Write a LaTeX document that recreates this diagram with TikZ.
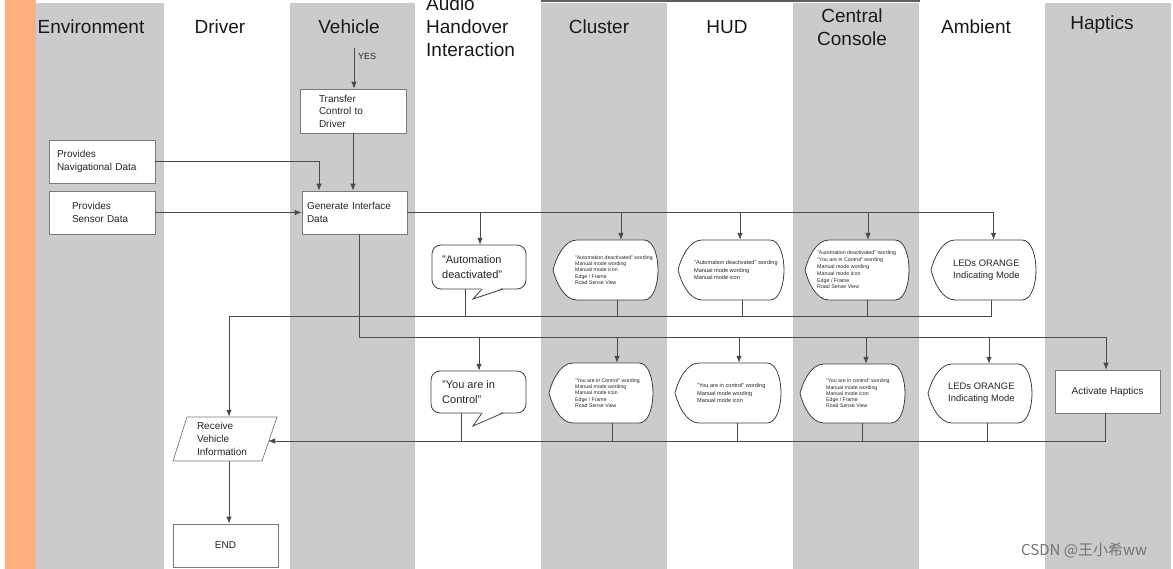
\documentclass[tikz,border=0pt]{standalone}
\usepackage{fontspec}
\setmainfont{Liberation Sans}
\newfontfamily\cjk{Noto Sans CJK SC}
\usetikzlibrary{arrows.meta,fit}
\definecolor{laneg}{HTML}{CBCBCB}
\definecolor{orng}{HTML}{FDB07C}
\definecolor{linec}{HTML}{4A4A4A}
\definecolor{boxc}{HTML}{7A7A7A}
\definecolor{topln}{HTML}{5E5E5E}
\tikzset{
  lane/.style={fill=laneg, draw=none},
  hdr/.style={font=\fontsize{19}{23}\selectfont, inner sep=0pt, align=center, text=black!90},
  box/.style={draw=boxc, fill=white, line width=0.7pt, font=\fontsize{10}{12.5}\selectfont, align=left, text=black!85},
  shp/.style={draw=black!75, fill=white, line width=0.8pt},
  ln/.style={draw=linec, line width=0.8pt},
  arr/.style={ln, -{Latex[length=7pt,width=5.5pt]}},
  dtext/.style={inner sep=0pt, align=left, text=black!85},
}
% display shape: name, xl, xr, top, bot, text x, font, text
\newcommand\dispshape[8]{%
  \path (#2,#4) coordinate (#1tl) (#3,#5) coordinate (#1br);
  \node[inner sep=0pt, fit=(#1tl)(#1br)] (#1) {};
  \draw[shp] (#2,{(#4+#5)/2}) .. controls +(3,-12) and +(-13,0) .. (#2+24,#4) -- (#3-14,#4)
     .. controls +(10,0) and +(0,-13) .. (#3,{(#4+#5)/2})
     .. controls +(0,13) and +(10,0) .. (#3-14,#5) -- (#2+24,#5)
     .. controls +(-13,0) and +(3,12) .. (#2,{(#4+#5)/2}) -- cycle;
  \node[dtext, anchor=west, font=#7] (#1t) at (#6,{(#4+#5)/2}) {#8};
}
% callout: name, xl, xr, top, bot, base1, base2, tip x, tip y
\newcommand\calloutshape[9]{%
  \path (#2,#4) coordinate (#1tl) (#3,#5) coordinate (#1br);
  \node[inner sep=0pt, fit=(#1tl)(#1br)] (#1) {};
  \draw[shp, rounded corners=9pt] (#1tl) rectangle (#1br);
  \fill[white] (#6,#5-1.5) -- (#8,#9) -- (#7,#5-1.5) -- cycle;
  \draw[draw=black!75, line width=0.8pt, line join=miter] (#6,#5) -- (#8,#9) -- (#7,#5);
}
\begin{document}
\begin{tikzpicture}[x=1pt,y=-1pt]
\useasboundingbox (0,0) rectangle (1173,569);
\fill[white] (0,0) rectangle (1173,569);
% lanes
\fill[orng] (5,0) rectangle (36,569);
\fill[lane] (36,3) rectangle (164,569);
\fill[lane] (290,3) rectangle (415,569);
\fill[lane] (541,3) rectangle (667,569);
\fill[lane] (793,3) rectangle (919,569);
\fill[lane] (1045,3) rectangle (1171,569);
\fill[topln] (541,0) rectangle (920,2);
% headers
\node[hdr] (h1) at (91,27) {Environment};
\node[hdr] (h2) at (220,27) {Driver};
\node[hdr] (h3) at (349,27) {Vehicle};
\node[hdr, anchor=west, align=left] (h4) at (426,27) {Audio\\Handover\\Interaction};
\node[hdr] (h5) at (599,27) {Cluster};
\node[hdr] (h6) at (727,27) {HUD};
\node[hdr] (h7) at (852,27.5) {Central\\Console};
\node[hdr] (h8) at (976,27) {Ambient};
\node[hdr] (h9) at (1102,25) {Haptics};

% boxes
\node[box, text width=68pt, inner xsep=19pt, minimum height=44pt] (tr) at (353,111) {Transfer\\Control to\\Driver};
\node[box, text width=90pt, inner xsep=8pt, minimum height=43pt] (nav) at (102,161.5) {Provides\\Navigational Data};
\node[box, text width=60pt, inner xsep=23pt, minimum height=43pt] (sen) at (102,212.5) {Provides\\Sensor Data};
\node[box, text width=95pt, inner xsep=5pt, minimum height=43pt] (gen) at (354.5,212.5) {Generate Interface\\Data};
\node[box, align=center, minimum width=105pt, minimum height=43pt] (endn) at (225.5,545.5) {END};
\node[box, minimum width=105pt, minimum height=43pt, font=\fontsize{10}{12.5}\selectfont] (hap) at (1107.5,391.5) {Activate Haptics};

% YES
\coordinate (yesst) at (354,48);
\draw[arr] (yesst) -- (yesst |- tr.north);
\node[inner sep=0pt, font=\fontsize{9}{10}\selectfont, text=black!85, anchor=west] (yes) at (358,56) {YES};

% Receive vehicle information
\draw[draw=boxc, fill=white, line width=0.7pt] (187,417) -- (277,417) -- (262,461) -- (173,461) -- cycle;
\node[inner sep=0pt, minimum width=104pt, minimum height=44pt, text width=56pt, align=left, font=\fontsize{10}{13}\selectfont, text=black!85] (rv) at (225,439) {Receive\\Vehicle\\Information};

% callouts
\calloutshape{au1}{432}{526}{245}{289}{503}{482}{473}{299}
\node[dtext, anchor=west, font=\fontsize{11}{14.5}\selectfont] (au1t) at (442,267) {"Automation\\deactivated"};
\calloutshape{au2}{431}{526}{371}{413}{503}{482}{473}{426}
\node[dtext, anchor=west, font=\fontsize{11}{15}\selectfont] (au2t) at (442,392) {"You are in\\Control"};

% displays row 1
\dispshape{cl1}{553}{658}{240}{300}{575}{\fontsize{5.2}{6.3}\selectfont}{"Automation deactivated" wording\\Manual mode wording\\Manual mode icon\\Edge / Frame\\Road Sense View}
\dispshape{hu1}{678}{784}{240}{300}{694}{\fontsize{5.6}{7.2}\selectfont}{"Automation deactivated" wording\\Manual mode wording\\Manual mode icon}
\dispshape{ce1}{805}{909}{240}{300}{817}{\fontsize{5.3}{6.8}\selectfont}{"Automation deactivated" wording\\"You are in Control" wording\\Manual mode wording\\Manual mode icon\\Edge / Frame\\Road Sense View}
\dispshape{am1}{931}{1036}{240}{300}{953}{\fontsize{9.4}{11.5}\selectfont}{LEDs ORANGE\\Indicating Mode}
% displays row 2
\dispshape{cl2}{549}{653}{363}{423}{575}{\fontsize{5.2}{6.3}\selectfont}{"You are in Control" wording\\Manual mode wording\\Manual mode icon\\Edge / Frame\\Road Sense View}
\dispshape{hu2}{675}{781}{363}{423}{697}{\fontsize{5.6}{7.2}\selectfont}{"You are in control" wording\\Manual mode wording\\Manual mode icon}
\dispshape{ce2}{800}{905}{364}{423}{826}{\fontsize{5.2}{6.3}\selectfont}{"You are in control" wording\\Manual mode wording\\Manual mode icon\\Edge / Frame\\Road Sense View}
\dispshape{am2}{928}{1032}{364}{423}{948}{\fontsize{9.4}{12}\selectfont}{LEDs ORANGE\\Indicating Mode}

% connection points
\path ([xshift=1pt]au1.north) coordinate (au1i) ([xshift=-14pt]au1.south) coordinate (au1o)
      ([xshift=15.5pt]cl1.north) coordinate (cl1i) ([xshift=11.5pt]cl1.south) coordinate (cl1o)
      ([xshift=9pt]hu1.north) coordinate (hu1i) ([xshift=11pt]hu1.south) coordinate (hu1o)
      ([xshift=11pt]ce1.north) coordinate (ce1i) ([xshift=10pt]ce1.south) coordinate (ce1o)
      ([xshift=10pt]am1.north) coordinate (am1i) ([xshift=8pt]am1.south) coordinate (am1o)
      ([xshift=0.5pt]au2.north) coordinate (au2i) ([xshift=-17.5pt]au2.south) coordinate (au2o)
      ([xshift=16pt]cl2.north) coordinate (cl2i) ([xshift=11pt]cl2.south) coordinate (cl2o)
      ([xshift=11pt]hu2.north) coordinate (hu2i) ([xshift=9pt]hu2.south) coordinate (hu2o)
      ([xshift=13.5pt]ce2.north) coordinate (ce2i) ([xshift=9.5pt]ce2.south) coordinate (ce2o)
      ([xshift=9pt]am2.north) coordinate (am2i) ([xshift=7pt]am2.south) coordinate (am2o)
      ([xshift=-1.5pt]hap.north) coordinate (hapi) ([xshift=-2.5pt]hap.south) coordinate (hapo)
      ([xshift=4.5pt]gen.south) coordinate (geno)
      ([xshift=-35.5pt]gen.north) coordinate (genn)
      ([xshift=4pt]rv.north) coordinate (rvi) ([xshift=4pt]rv.south) coordinate (rvo)
      (268,441) coordinate (rvr)
      ([xshift=3.5pt]endn.north) coordinate (endi)
      (0,316) coordinate (bus1) (0,337) coordinate (bus2) (0,441) coordinate (bus3);

% inputs to Generate
\draw[arr] (nav.east) -| (genn);
\draw[arr] (sen.east) -- (gen.west);
\draw[arr] (tr.south) -- (tr.south |- gen.north);

% row 1 feed
\draw[arr] (gen.east) -| (am1i);
\foreach \c in {au1i,cl1i,hu1i,ce1i} \draw[arr] (\c |- gen.east) -- (\c);
% row 1 return
\draw[arr] (am1o) |- (rvi |- bus1) -- (rvi);
\foreach \c in {au1o,cl1o,hu1o,ce1o} \draw[ln] (\c) -- (\c |- bus1);

% row 2 feed
\draw[arr] (geno) |- (hapi |- bus2) -- (hapi);
\foreach \c in {au2i,cl2i,hu2i,ce2i,am2i} \draw[arr] (\c |- bus2) -- (\c);
% row 2 return
\draw[arr] (hapo) |- (rvr);
\foreach \c in {au2o,cl2o,hu2o,ce2o,am2o} \draw[ln] (\c) -- (\c |- bus3);

% end
\draw[arr] (rvo) -- (endi);

% watermark
\node[inner sep=0pt, font=\cjk\fontsize{15}{17}\selectfont, text=black!55, anchor=west] (wm) at (1021,550) {CSDN @王小希ww};
\end{tikzpicture}
\end{document}
